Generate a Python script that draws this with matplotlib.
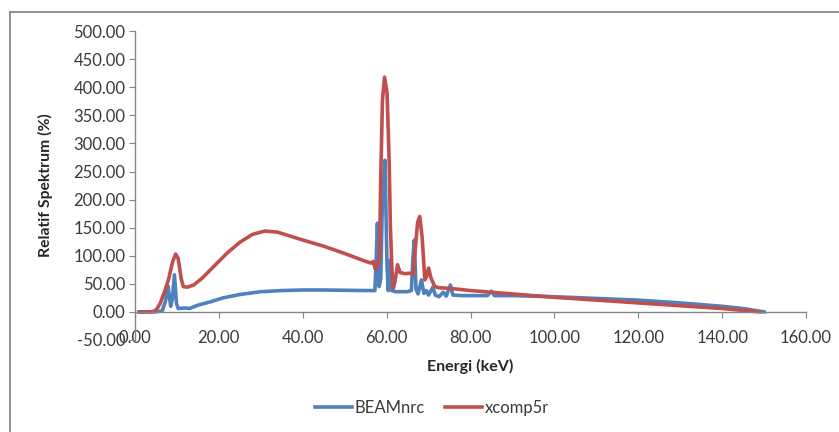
import matplotlib
matplotlib.use("Agg")
import matplotlib.pyplot as plt
from matplotlib.lines import Line2D
from matplotlib.ticker import FormatStrFormatter

plt.rcParams["font.family"] = ["Lato", "DejaVu Sans"]

# BEAMnrc spectrum (energy keV, relative %)
beam_x = [1, 5, 6.5, 7.3, 7.9, 8.5, 8.9, 9.4, 9.9, 10.3, 12, 13, 15, 18, 21, 25,
          30, 35, 40, 45, 50, 55, 57.2, 57.5, 57.8, 58.2, 58.6, 59.0, 59.6, 60.1,
          60.4, 60.8, 61.2, 62, 65, 65.9, 66.3, 66.6, 67.0, 67.5, 68.3, 68.9,
          69.5, 70.0, 71.0, 71.6, 72.5, 73.5, 74.2, 75.2, 75.8, 78, 84, 85,
          85.7, 90, 100, 110, 120, 130, 140, 145, 150]
beam_y = [0, 0, 2, 20, 46, 10, 22, 66, 15, 6, 7, 6, 12, 18, 25, 31,
          36, 38, 39, 39, 38.5, 38, 38, 90, 158, 45, 60, 200, 270, 80,
          38, 92, 38, 36, 36, 38, 100, 128, 40, 32, 57, 33,
          38, 30, 44, 30, 27, 35, 28, 48, 30, 29, 29, 37,
          29, 29, 27, 24, 21, 16, 10, 6, 0]

# xcomp5r spectrum
xcomp_x = [1, 4, 5, 6, 7, 8, 9, 9.7, 10.3, 11, 11.5, 12.5, 14, 16, 18, 20, 22,
           25, 28, 31, 34, 37, 40, 45, 50, 55, 56.3, 56.8, 57.3, 57.8, 58.3,
           58.6, 59.0, 59.5, 60.1, 60.6, 60.9, 61.3, 61.6, 62.0, 62.6, 63.2,
           64.5, 65.5, 66.3, 66.8, 67.4, 67.9, 68.5, 69.1, 69.5, 70.0, 70.6,
           71.5, 72.5, 75, 80, 90, 100, 110, 120, 130, 140, 149]
xcomp_y = [0, 0, 3, 15, 35, 58, 90, 103, 95, 60, 45, 44, 48, 60, 75, 90, 105,
           124, 138, 144, 142, 135, 128, 117, 104, 90, 87, 90, 76, 80, 100,
           240, 377, 418, 390, 270, 150, 70, 42, 55, 84, 70,
           68, 69, 66, 110, 160, 170, 130, 57, 62, 78, 60,
           45, 43, 42, 38, 32, 26, 21, 16, 11, 6, 0]

x_ticks = [0, 20, 40, 60, 80, 100, 120, 140, 160]
y_ticks = [-50, 0, 50, 100, 150, 200, 250, 300, 350, 400, 450, 500]

blue = "#4F81BD"
red = "#C0504D"
axis_gray = "#868686"

fig = plt.figure(figsize=(8.39, 4.32), dpi=100)
ax = fig.add_axes([0.1609, 0.213, 0.7998, 0.715])

ax.plot(beam_x, beam_y, color=blue, lw=2.6, label="BEAMnrc", solid_joinstyle="round")
ax.plot(xcomp_x, xcomp_y, color=red, lw=2.6, label="xcomp5r", solid_joinstyle="round")

ax.set_xlim(0, 160)
ax.set_ylim(-50, 500)
ax.set_xticks(x_ticks)
ax.set_yticks(y_ticks)
ax.xaxis.set_major_formatter(FormatStrFormatter("%.2f"))
ax.yaxis.set_major_formatter(FormatStrFormatter("%.2f"))

ax.spines["top"].set_visible(False)
ax.spines["right"].set_visible(False)
ax.spines["bottom"].set_position(("data", 0))
for s in ("left", "bottom"):
    ax.spines[s].set_color(axis_gray)
    ax.spines[s].set_linewidth(1)

ax.tick_params(axis="y", direction="out", length=4, color=axis_gray,
               labelsize=12, labelcolor="#3a3a3a", pad=3)
ax.tick_params(axis="x", direction="out", length=4, color=axis_gray,
               labelsize=12, labelcolor="#3a3a3a", pad=9)

ax.set_xlabel("Energi (keV)", fontsize=11.5, fontweight="bold", color="#262626")
ax.xaxis.set_label_coords(0.5, -0.087)
ax.xaxis.label.set_verticalalignment("center")
ax.set_ylabel("Relatif Spektrum (%)", fontsize=11.3, fontweight="bold", color="#262626")
ax.yaxis.set_label_coords(-0.134, 0.5)
ax.yaxis.label.set_verticalalignment("center")

fig.legend(loc="center", bbox_to_anchor=(0.515, 0.056), ncol=2, frameon=False,
           fontsize=12, handlelength=2.2, columnspacing=1.2, handletextpad=0.2,
           labelcolor="#3a3a3a")

# outer chart frame (only top and left edges visible in the crop)
fig.add_artist(Line2D([10 / 839, 10 / 839], [0, 1 - 12 / 432],
                      transform=fig.transFigure, color="#808080", lw=1.2))
fig.add_artist(Line2D([10 / 839, 1], [1 - 12 / 432, 1 - 12 / 432],
                      transform=fig.transFigure, color="#808080", lw=1.2))

fig.savefig("out.png", dpi=100)
